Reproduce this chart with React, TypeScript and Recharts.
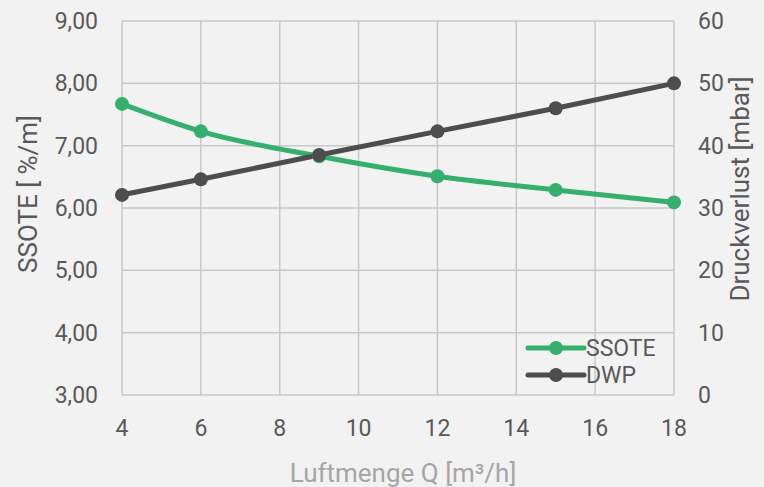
import { LineChart, Line, XAxis, YAxis, CartesianGrid } from "recharts";

const airflow = [4, 6, 9, 12, 15, 18];
const ssote = [7.67, 7.23, 6.83, 6.51, 6.29, 6.09];
const dwp = [32.1, 34.6, 38.5, 42.3, 46.0, 50.0];

const xTicks = [4, 6, 8, 10, 12, 14, 16, 18];
const leftTicks = [3, 4, 5, 6, 7, 8, 9];
const rightTicks = [0, 10, 20, 30, 40, 50, 60];

const GREEN = "#35ae6e";
const DARK = "#4d4d4d";
const TEXT = "#595959";
const FONT = "Roboto, 'DejaVu Sans', sans-serif";
const FS = 23; // ticks + legend
const TS = 26; // axis titles

const data = airflow.map((q, i) => ({ q, ssote: ssote[i], dwp: dwp[i] }));

const legendItems = [
  { name: "SSOTE", color: GREEN },
  { name: "DWP", color: DARK },
];

const leftTitle = (props: any) => {
  const vb = props.viewBox;
  const cx = vb.x + 37;
  const cy = 194;
  return (
    <text x={cx} y={cy} textAnchor="middle" transform={`rotate(-90 ${cx} ${cy})`}
      fill={TEXT} fontSize={TS} fontFamily={FONT}>
      SSOTE [ %/m]
    </text>
  );
};

const rightTitle = (props: any) => {
  const vb = props.viewBox;
  const cx = vb.x + 75;
  const cy = 189;
  return (
    <text x={cx} y={cy} textAnchor="middle" transform={`rotate(-90 ${cx} ${cy})`}
      fill={TEXT} fontSize={TS} fontFamily={FONT}>
      Druckverlust [mbar]
    </text>
  );
};

const bottomTitle = (props: any) => {
  const vb = props.viewBox;
  return (
    <text x={vb.x + vb.width / 2 + 5} y={482} textAnchor="middle" fill="#a6a6a6" fontSize={TS} fontFamily={FONT}>
      Luftmenge Q [m³/h]
    </text>
  );
};

// legend sits inside the plot, bottom right
const LegendBox = () => (
  <svg width={150} height={56} style={{ position: "absolute", left: 525, top: 336 }}>
    {legendItems.map((it, i) => {
      const y = 12 + i * 27;
      return (
        <g key={it.name}>
          <line x1={3} x2={59} y1={y} y2={y} stroke={it.color} strokeWidth={5} strokeLinecap="round" />
          <circle cx={31} cy={y} r={7} fill={it.color} />
          <text x={61} y={y} dominantBaseline="central" fill={TEXT} fontSize={FS} fontFamily={FONT}>
            {it.name}
          </text>
        </g>
      );
    })}
  </svg>
);

export default function App() {
  return (
    <div style={{ position: "absolute", left: 0, top: 0, width: 764, height: 487, background: "#f2f2f2" }}>
      <LineChart width={764} height={487} data={data} margin={{ top: 21, right: 0, bottom: 0, left: 0 }}>
        <CartesianGrid stroke="#c8c8c8" strokeWidth={1.5} yAxisId="left" />
        <XAxis
          dataKey="q"
          type="number"
          domain={[4, 18]}
          ticks={xTicks}
          axisLine={false}
          tickLine={false}
          tickSize={23}
          height={92}
          tick={{ fill: TEXT, fontSize: FS, fontFamily: FONT }}
          label={{ content: bottomTitle }}
        />
        <YAxis
          yAxisId="left"
          domain={[3, 9]}
          ticks={leftTicks}
          width={122}
          axisLine={false}
          tickLine={false}
          tickSize={22}
          tickFormatter={(v: number) => v.toFixed(2).replace(".", ",")}
          tick={{ fill: TEXT, fontSize: FS, fontFamily: FONT }}
          label={{ content: leftTitle }}
        />
        <YAxis
          yAxisId="right"
          orientation="right"
          domain={[0, 60]}
          ticks={rightTicks}
          width={90}
          axisLine={false}
          tickLine={false}
          tickSize={22}
          tick={{ fill: TEXT, fontSize: FS, fontFamily: FONT }}
          label={{ content: rightTitle }}
        />
        <Line yAxisId="left" type="monotone" dataKey="ssote" name="SSOTE" stroke={GREEN} strokeWidth={5}
          dot={{ r: 7, fill: GREEN, stroke: GREEN, strokeWidth: 0 }} activeDot={false} isAnimationActive={false} />
        <Line yAxisId="right" type="monotone" dataKey="dwp" name="DWP" stroke={DARK} strokeWidth={5}
          dot={{ r: 7, fill: DARK, stroke: DARK, strokeWidth: 0 }} activeDot={false} isAnimationActive={false} />
      </LineChart>
      <LegendBox />
    </div>
  );
}
